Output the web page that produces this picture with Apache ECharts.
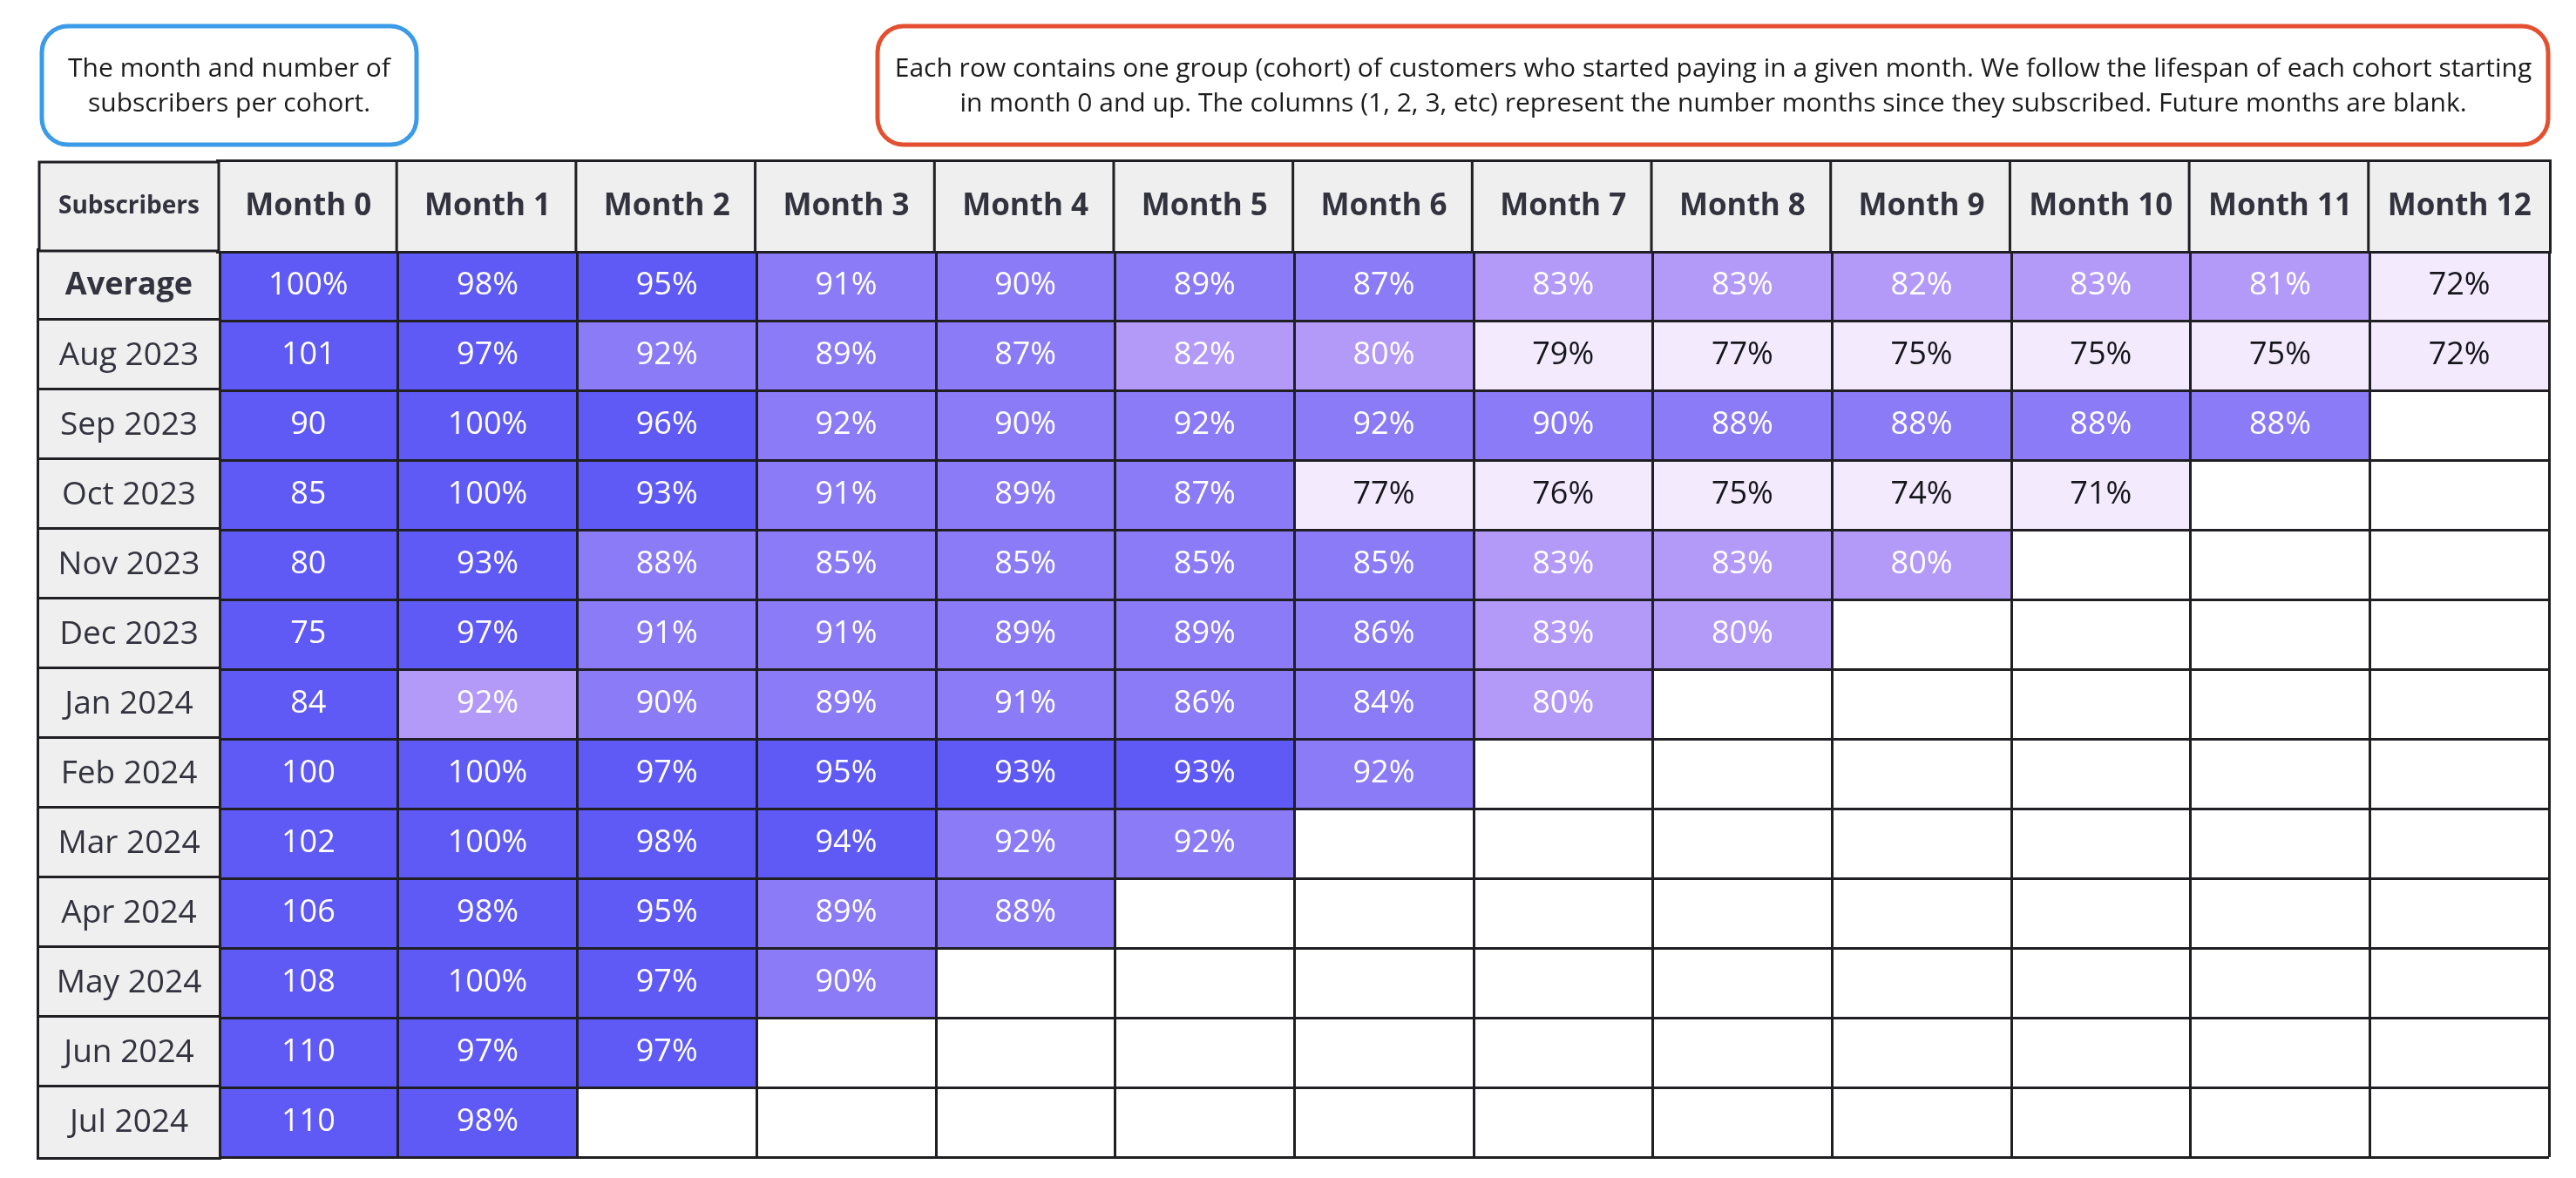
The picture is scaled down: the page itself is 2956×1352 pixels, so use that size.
<!DOCTYPE html>
<html>
<head>
<meta charset="utf-8">
<title>Cohort retention</title>
<script src="https://cdn.jsdelivr.net/npm/echarts@6/dist/echarts.min.js"></script>
<style>
    html, body { margin: 0; padding: 0; background: #fff; }
    #cohort { width: 2956px; height: 1352px; }
</style>
</head>
<body>
<div id="cohort"></div>
<script>
// 列：订阅后的月数
var months = ['Month 0', 'Month 1', 'Month 2', 'Month 3', 'Month 4', 'Month 5', 'Month 6',
    'Month 7', 'Month 8', 'Month 9', 'Month 10', 'Month 11', 'Month 12'];

// 行：平均值 + 每个队列
var cohorts = ['Average', 'Aug 2023', 'Sep 2023', 'Oct 2023', 'Nov 2023', 'Dec 2023', 'Jan 2024',
    'Feb 2024', 'Mar 2024', 'Apr 2024', 'May 2024', 'Jun 2024', 'Jul 2024'];

// Month 0 格子里显示的订阅人数（Average 行显示 100%）
var subscribers = [null, 101, 90, 85, 80, 75, 84, 100, 102, 106, 108, 110, 110];

// 留存率 %，从 Month 0 开始
var average = [100, 98, 95, 91, 90, 89, 87, 83, 83, 82, 83, 81, 72];
var aug2023 = [100, 97, 92, 89, 87, 82, 80, 79, 77, 75, 75, 75, 72];
var sep2023 = [100, 100, 96, 92, 90, 92, 92, 90, 88, 88, 88, 88];
var oct2023 = [100, 100, 93, 91, 89, 87, 77, 76, 75, 74, 71];
var nov2023 = [100, 93, 88, 85, 85, 85, 85, 83, 83, 80];
var dec2023 = [100, 97, 91, 91, 89, 89, 86, 83, 80];
var jan2024 = [100, 92, 90, 89, 91, 86, 84, 80];
var feb2024 = [100, 100, 97, 95, 93, 93, 92];
var mar2024 = [100, 100, 98, 94, 92, 92];
var apr2024 = [100, 98, 95, 89, 88];
var may2024 = [100, 100, 97, 90];
var jun2024 = [100, 97, 97];
var jul2024 = [100, 98];

var rows = [average, aug2023, sep2023, oct2023, nov2023, dec2023, jan2024,
    feb2024, mar2024, apr2024, may2024, jun2024, jul2024];

// 原表里这一格是浅色标注的（不按阈值）
var paleCells = [['Jan 2024', 'Month 1']];

// 布局
var tableLeft = 45, tableTop = 186;
var gridLeft = 251, gridTop = 288, gridRight = 2925, gridBottom = 1328;
var colW = (gridRight - gridLeft) / months.length;
var rowH = (gridBottom - gridTop) / cohorts.length;
var headH = gridTop - tableTop;
var labelW = gridLeft - tableLeft;

var lineColor = '#1f1f24';
var headBg = '#efefef';
var inkColor = '#33333f';
var font = 'Open Sans';
var cellFont = 36;

var colors = {
    high: '#5f5af5',
    mid: '#8b7bf7',
    low: '#b39af8',
    faint: '#f3eafd'
};

function isPale(r, m) {
    for (var i = 0; i < paleCells.length; i++) {
        if (paleCells[i][0] === cohorts[r] && paleCells[i][1] === months[m]) return true;
    }
    return false;
}

var cells = [];
rows.forEach(function (row, r) {
    row.forEach(function (v, m) {
        var text = (m === 0 && subscribers[r] != null) ? String(subscribers[r]) : v + '%';
        var item = { value: [m, r, v, text] };
        if (isPale(r, m)) item.itemStyle = { color: colors.low };
        cells.push(item);
    });
});

var chart = echarts.init(document.getElementById('cohort'));

var option = {
    backgroundColor: '#fff',
    animation: false,
    grid: {
        left: gridLeft,
        top: gridTop,
        width: gridRight - gridLeft,
        height: gridBottom - gridTop
    },
    xAxis: {
        type: 'category',
        data: months,
        position: 'top',
        z: 5,
        axisTick: { show: false },
        axisLine: { show: true, lineStyle: { color: lineColor, width: 5 } },
        splitLine: { show: true, lineStyle: { color: lineColor, width: 3 } },
        axisLabel: {
            interval: 0,
            margin: headH / 2,
            align: 'center',
            verticalAlign: 'middle',
            width: colW,
            height: headH,
            lineHeight: headH,
            backgroundColor: headBg,
            borderColor: lineColor,
            borderWidth: 3,
            color: inkColor,
            fontFamily: font,
            fontWeight: 'bold',
            fontSize: 35
        }
    },
    yAxis: {
        type: 'category',
        data: cohorts,
        inverse: true,
        z: 5,
        axisTick: { show: false },
        axisLine: { show: true, lineStyle: { color: lineColor, width: 3 } },
        splitLine: { show: true, lineStyle: { color: lineColor, width: 3 } },
        axisLabel: {
            interval: 0,
            margin: labelW / 2,
            align: 'center',
            verticalAlign: 'middle',
            width: labelW,
            height: rowH,
            lineHeight: rowH,
            backgroundColor: headBg,
            borderColor: lineColor,
            borderWidth: 3,
            formatter: function (v) {
                return v === 'Average' ? '{b|' + v + '}' : '{r|' + v + '}';
            },
            rich: {
                b: { color: inkColor, fontFamily: font, fontWeight: 'bold', fontSize: 36, lineHeight: rowH },
                r: { color: inkColor, fontFamily: font, fontSize: 37, lineHeight: rowH }
            }
        }
    },
    visualMap: {
        type: 'piecewise',
        show: false,
        dimension: 2,
        seriesIndex: 0,
        pieces: [
            { gte: 93, color: colors.high },
            { gte: 84, lt: 93, color: colors.mid },
            { gte: 80, lt: 84, color: colors.low },
            { lt: 80, color: colors.faint }
        ]
    },
    series: [{
        type: 'heatmap',
        data: cells,
        emphasis: { disabled: true },
        label: {
            show: true,
            formatter: function (p) {
                return (p.value[2] < 80 ? '{k|' : '{w|') + p.value[3] + '}';
            },
            rich: {
                w: { color: '#ffffff', fontFamily: font, fontSize: cellFont },
                k: { color: '#15151a', fontFamily: font, fontSize: cellFont }
            }
        }
    }],
    graphic: [
        // 左上角表头
        {
            type: 'rect',
            z: 10,
            shape: { x: tableLeft, y: tableTop, width: labelW, height: headH },
            style: { fill: headBg, stroke: lineColor, lineWidth: 3 }
        },
        {
            type: 'text',
            z: 11,
            x: tableLeft + labelW / 2,
            y: tableTop + headH / 2,
            style: {
                text: 'Subscribers',
                align: 'center',
                verticalAlign: 'middle',
                fill: inkColor,
                font: 'bold 28px "Open Sans"'
            }
        },
        // 说明框
        {
            type: 'rect',
            z: 10,
            shape: { x: 48, y: 30, width: 430, height: 136, r: 30 },
            style: { fill: '#fff', stroke: '#3b9be8', lineWidth: 5 }
        },
        {
            type: 'text',
            z: 11,
            x: 263,
            y: 99,
            style: {
                text: 'The month and number of\nsubscribers per cohort.',
                align: 'center',
                verticalAlign: 'middle',
                lineHeight: 40,
                fill: '#1c1c1c',
                font: '30px "Open Sans"'
            }
        },
        {
            type: 'rect',
            z: 10,
            shape: { x: 1007, y: 30, width: 1917, height: 136, r: 30 },
            style: { fill: '#fff', stroke: '#e4502f', lineWidth: 5 }
        },
        {
            type: 'text',
            z: 11,
            x: 1966,
            y: 99,
            style: {
                text: 'Each row contains one group (cohort) of customers who started paying in a given month. We follow the lifespan of each cohort starting\nin month 0 and up. The columns (1, 2, 3, etc) represent the number months since they subscribed. Future months are blank.',
                align: 'center',
                verticalAlign: 'middle',
                lineHeight: 40,
                fill: '#1c1c1c',
                font: '30px "Open Sans"'
            }
        }
    ]
};

chart.setOption(option);
</script>
</body>
</html>
